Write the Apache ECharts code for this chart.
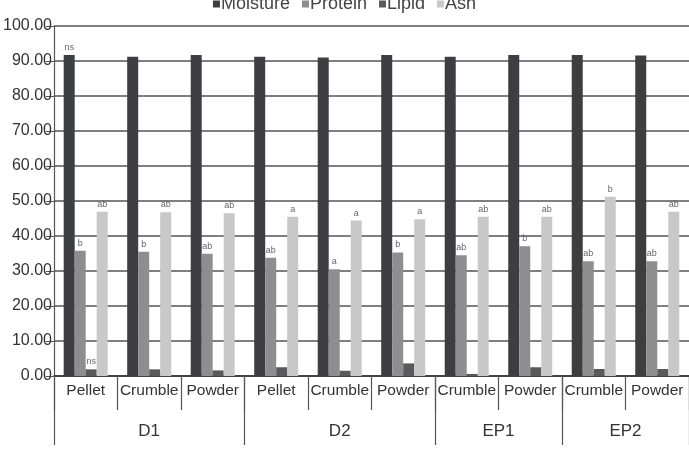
<!DOCTYPE html>
<html>
<head>
<meta charset="utf-8">
<script src="https://cdn.jsdelivr.net/npm/echarts@6/dist/echarts.min.js"></script>
<style>html,body{margin:0;padding:0;background:#fff}#c{width:689px;height:450px}</style>
</head>
<body>
<div id="c"></div>
<script>
var categories = ['Pellet','Crumble','Powder','Pellet','Crumble','Powder','Crumble','Powder','Crumble','Powder'];
var groups = ['D1','D2','EP1','EP2'];
var groupBounds = [0,3,6,8,10];
var groupCenters = [1.5,4.5,7,9];
var yTicks = [0,10,20,30,40,50,60,70,80,90,100];

var moisture = [91.7,91.2,91.7,91.2,91.0,91.7,91.2,91.7,91.7,91.6];
var protein  = [35.8,35.5,34.9,33.8,30.5,35.3,34.5,37.1,32.8,32.8];
var lipid    = [1.9,1.9,1.6,2.5,1.5,3.6,0.6,2.5,2.0,2.0];
var ash      = [46.9,46.8,46.5,45.5,44.4,44.8,45.5,45.5,51.2,46.9];

var moistureSig = ['ns','','','','','','','','',''];
var proteinSig  = ['b','b','ab','ab','a','b','ab','b','ab','ab'];
var lipidSig    = ['ns','','','','','','','','',''];
var ashSig      = ['ab','ab','ab','a','a','a','ab','ab','b','ab'];

var FONT = '"Liberation Sans", Arial, sans-serif';

function mk(name, data, sig, color) {
  return {
    name: name, type: 'bar', data: data, barWidth: 11, barGap: '0%',
    xAxisIndex: 0, yAxisIndex: 0,
    itemStyle: { color: color },
    label: {
      show: true, position: 'top', distance: 3, fontSize: 9, color: '#666', fontFamily: FONT,
      formatter: function (p) { return sig[p.dataIndex]; }
    }
  };
}

var chart = echarts.init(document.getElementById('c'), null, { renderer: 'canvas' });
chart.setOption({
  animation: false,
  backgroundColor: '#fff',
  textStyle: { fontFamily: FONT },
  legend: {
    top: -10, left: 'center', itemWidth: 7, itemHeight: 7, itemGap: 12,
    icon: 'rect',
    textStyle: { fontSize: 18, color: '#444', fontFamily: FONT, padding: [0,0,0,-4] },
    data: ['Moisture','Protein','Lipid','Ash']
  },
  grid: { left: 50, right: 0, top: 26, bottom: 74, containLabel: false },
  xAxis: [
    {
      type: 'category', data: categories, position: 'bottom',
      axisLine: { show: true, lineStyle: { color: '#333', width: 1.5 } },
      axisTick: { show: true, interval: 0, length: 34, lineStyle: { color: '#555', width: 1.2 } },
      axisLabel: { interval: 0, margin: 7, fontSize: 15.5, color: '#333', fontFamily: FONT },
      splitLine: { show: false }
    },
    {
      type: 'value', min: 0, max: 10, position: 'bottom',
      axisLine: { show: false },
      axisTick: { show: true, customValues: groupBounds, length: 69, lineStyle: { color: '#555', width: 1.2 } },
      axisLabel: {
        show: true, customValues: groupCenters, margin: 47, fontSize: 17, color: '#333', fontFamily: FONT,
        formatter: function (v) { return groups[groupCenters.indexOf(v)]; }
      },
      splitLine: { show: false }
    }
  ],
  yAxis: {
    type: 'value', min: 0, max: 100, interval: 10,
    axisLine: { show: true, lineStyle: { color: '#555', width: 1.2 } },
    axisTick: { show: true, length: 8, inside: false, lineStyle: { color: '#555' } },
    axisLabel: { margin: 2, fontSize: 16, color: '#333', fontFamily: FONT,
      formatter: function (v) { return v.toFixed(2); } },
    splitLine: { show: true, lineStyle: { color: '#555', width: 1.5 } }
  },
  series: [
    mk('Moisture', moisture, moistureSig, '#3d3e42'),
    mk('Protein', protein, proteinSig, '#8e8e8e'),
    mk('Lipid', lipid, lipidSig, '#5a5a5c'),
    mk('Ash', ash, ashSig, '#c8c8c8')
  ]
});
</script>
</body>
</html>
